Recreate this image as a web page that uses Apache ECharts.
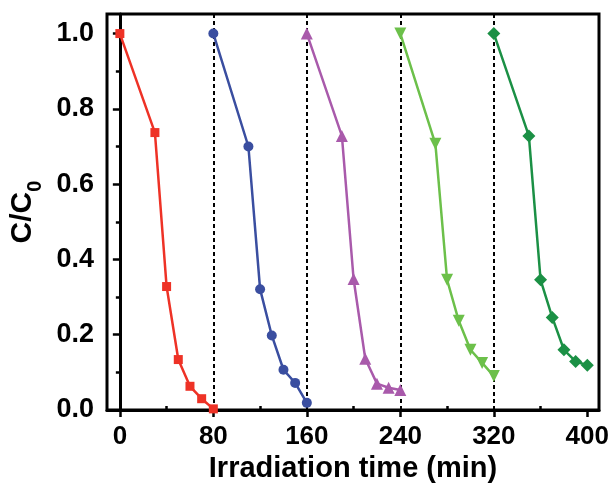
<!DOCTYPE html>
<html>
<head>
<meta charset="utf-8">
<script src="https://cdn.jsdelivr.net/npm/echarts@6/dist/echarts.min.js"></script>
<style>html,body{margin:0;padding:0;background:#fff}#c{width:613px;height:484px}</style>
</head>
<body>
<div id="c"></div>
<script>
// Data
const cycle1X = [0, 30, 40, 50, 60, 70, 80];
const cycle1Y = [1.0, 0.737, 0.328, 0.134, 0.063, 0.030, 0.003];
const cycle2X = [80, 110, 120, 130, 140, 150, 160];
const cycle2Y = [1.0, 0.70, 0.321, 0.198, 0.107, 0.072, 0.019];
const cycle3X = [160, 190, 200, 210, 220, 230, 240];
const cycle3Y = [1.0, 0.728, 0.348, 0.136, 0.070, 0.059, 0.053];
const cycle4X = [240, 270, 280, 290, 300, 310, 320];
const cycle4Y = [1.0, 0.707, 0.346, 0.237, 0.160, 0.125, 0.090];
const cycle5X = [320, 350, 360, 370, 380, 390, 400];
const cycle5Y = [1.0, 0.728, 0.346, 0.246, 0.160, 0.129, 0.119];
const xTicks = [0, 80, 160, 240, 320, 400];
const xMinorTicks = [40, 120, 200, 280, 360];
const yTicks = [0, 0.2, 0.4, 0.6, 0.8, 1.0];
const yMinorTicks = [0.1, 0.3, 0.5, 0.7, 0.9];
const cycleBounds = [80, 160, 240, 320];

function pairs(xs, ys) { return xs.map((x, i) => [x, ys[i]]); }

const font = 'Liberation Sans, Arial, sans-serif';
const chart = echarts.init(document.getElementById('c'), null, {renderer: 'canvas'});

function mk(name, xs, ys, color, symbol, size, rotate) {
  return {
    name, type: 'line', data: pairs(xs, ys),
    symbol, symbolSize: size, symbolRotate: rotate || 0,
    lineStyle: {color, width: 2.5}, itemStyle: {color},
    z: 5, animation: false
  };
}

const series = [
  mk('c1', cycle1X, cycle1Y, '#EE3226', 'rect', 9),
  mk('c2', cycle2X, cycle2Y, '#3A4EA0', 'circle', 10),
  mk('c3', cycle3X, cycle3Y, '#A95AAB', 'triangle', 12),
  mk('c4', cycle4X, cycle4Y, '#6CC04A', 'triangle', 12, 180),
  mk('c5', cycle5X, cycle5Y, '#1B9045', 'diamond', 13)
];
series[0].markLine = {
  silent: true, symbol: 'none', animation: false,
  label: {show: false},
  lineStyle: {color: '#000', type: [4, 3], width: 2},
  data: cycleBounds.map(v => ({xAxis: v}))
};

const axisBase = {
  type: 'value', min: -11, max: 410,
  splitLine: {show: false}
};

chart.setOption({
  animation: false,
  backgroundColor: '#fff',
  grid: {left: 107, right: 14, top: 14, bottom: 74, outerBoundsMode: 'none', containLabel: false, show: true, borderColor: '#000', borderWidth: 3, backgroundColor: 'transparent'},
  xAxis: [
    Object.assign({}, axisBase, {
      name: 'Irradiation time (min)', nameLocation: 'middle', nameGap: 38,
      nameTextStyle: {fontFamily: font, fontWeight: 'bold', fontSize: 29, color: '#000'},
      axisLine: {show: true, lineStyle: {color: '#000', width: 3}},
      axisTick: {show: true, inside: false, length: 7, lineStyle: {color: '#000', width: 2.5}, customValues: xTicks},
      axisLabel: {show: true, margin: 14, fontFamily: font, fontWeight: 'bold', fontSize: 26, color: '#000', customValues: xTicks}
    }),
    Object.assign({}, axisBase, {
      axisLine: {show: false},
      axisTick: {show: true, inside: false, length: 4, lineStyle: {color: '#000', width: 2.5}, customValues: xMinorTicks},
      axisLabel: {show: false}
    })
  ],
  yAxis: [
    {
      type: 'value', min: 0, max: 1.052,
      splitLine: {show: false},
      name: '{a|C/C}{b|0}', nameLocation: 'middle', nameGap: 62, nameRotate: 90,
      nameTextStyle: {
        color: '#000',
        rich: {
          a: {fontFamily: font, fontWeight: 'bold', fontSize: 30, color: '#000'},
          b: {fontFamily: font, fontWeight: 'bold', fontSize: 20, color: '#000', verticalAlign: 'bottom', padding: [0, 0, -8, 0]}
        }
      },
      axisLine: {show: true, lineStyle: {color: '#000', width: 3}},
      axisTick: {show: true, inside: false, length: 7, lineStyle: {color: '#000', width: 2.5}, customValues: yTicks},
      axisLabel: {show: true, margin: 13, fontFamily: font, fontWeight: 'bold', fontSize: 27, color: '#000', customValues: yTicks, formatter: v => v.toFixed(1)}
    },
    {
      type: 'value', min: 0, max: 1.052, position: 'left',
      splitLine: {show: false},
      axisLine: {show: false},
      axisTick: {show: true, inside: false, length: 4, lineStyle: {color: '#000', width: 2.5}, customValues: yMinorTicks},
      axisLabel: {show: false}
    }
  ],
  series
});
</script>
</body>
</html>
